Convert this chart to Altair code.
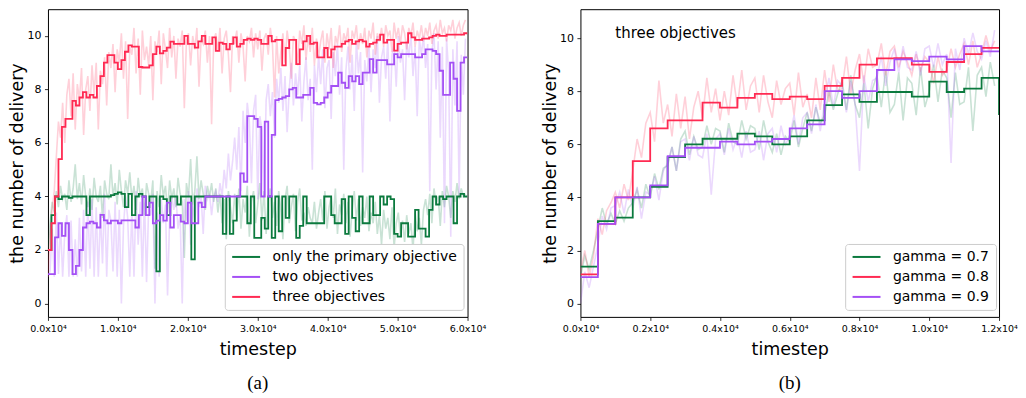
import altair as alt
import pandas as pd

FONT = "DejaVu Sans"

# ---------------- panel (a) ----------------
a_names = ["only the primary objective", "two objectives", "three objectives"]
a_dark = ["#0b7a3e", "#a450f5", "#ff2a52"]
A_STEP = 500
A_RAW = 300
A_END = 60000
a_xticks = [0, 10000, 20000, 30000, 40000, 50000, 60000]

a_step_green = [
    2.0, 3.3, 4.0, 3.9, 4.0, 4.0, 3.95, 4.0, 4.0, 4.0,
    4.0, 3.3, 4.0, 4.0, 4.0, 4.0, 4.0, 4.0, 4.05, 4.1,
    4.15, 4.1, 3.6, 4.1, 3.3, 4.0, 4.1, 4.0, 3.6, 4.0,
    4.0, 1.2, 4.0, 3.9, 3.3, 4.0, 4.0, 3.7, 4.0, 4.0,
    4.0, 1.65, 4.0, 4.0, 4.0, 4.0, 4.0, 4.0, 4.0, 4.0,
    2.6, 4.0, 2.6, 3.1, 4.0, 4.0, 4.0, 3.0, 4.0, 2.45,
    2.45, 3.2, 2.8, 4.0, 2.45, 4.0, 2.7, 4.0, 3.2, 4.0,
    4.0, 2.45, 2.9, 4.0, 3.0, 3.0, 3.0, 3.0, 3.0, 4.0,
    4.0, 3.3, 3.0, 3.0, 3.9, 2.6, 4.0, 3.2, 2.7, 4.0,
    3.0, 3.0, 4.0, 3.3, 3.3, 4.0, 3.7, 4.0, 3.9, 2.6,
    2.5, 3.0, 3.0, 2.5, 2.5, 3.5, 2.8, 2.8, 2.5, 3.5,
    4.0, 3.7, 4.0, 3.9, 4.0, 4.0, 3.0, 4.0, 4.1, 4.0,
]
a_step_purple = [
    1.1, 1.1, 2.47, 3.0, 2.53, 3.0, 2.0, 1.1, 1.41, 2.0,
    2.84, 3.0, 3.06, 3.0, 2.84, 3.31, 3.11, 3.0, 3.1, 3.1,
    3.0, 3.11, 3.11, 3.11, 3.11, 2.84, 3.3, 4.0, 3.3, 3.77,
    3.0, 3.1, 3.3, 3.1, 3.77, 2.84, 3.3, 3.3, 3.06, 3.0,
    3.77, 3.0, 3.0, 3.77, 3.6, 4.0, 4.0, 4.0, 4.0, 4.0,
    4.0, 4.0, 4.0, 4.0, 4.0, 4.86, 4.55, 7.0, 7.0, 6.9,
    6.6, 4.0, 6.8, 4.0, 6.3, 7.6, 7.65, 7.7, 7.75, 8.0,
    8.06, 7.7, 7.7, 7.8, 7.8, 8.06, 7.5, 7.44, 7.5, 7.7,
    7.88, 8.13, 8.13, 8.63, 8.25, 8.06, 8.5, 8.3, 8.5, 8.2,
    8.63, 8.63, 9.13, 8.63, 9.1, 9.1, 9.1, 8.94, 8.94, 9.32,
    9.2, 9.32, 9.32, 9.32, 9.32, 9.2, 9.2, 9.32, 9.5, 9.5,
    9.44, 9.32, 8.7, 7.8, 7.8, 9.0, 8.4, 7.2, 9.0, 9.2,
]
a_step_red = [
    2.0, 3.0, 4.0, 5.4, 6.6, 6.9, 6.9, 7.57, 7.4, 7.7,
    7.9, 7.7, 7.8, 7.7, 8.13, 8.5, 9.0, 9.28, 9.28, 9.0,
    8.76, 9.1, 9.41, 9.65, 9.6, 9.6, 8.84, 8.82, 8.82, 8.9,
    9.32, 9.6, 9.35, 9.44, 9.56, 9.79, 9.7, 9.7, 9.7, 10.0,
    9.7, 9.7, 9.56, 9.8, 10.0, 9.7, 9.7, 9.95, 9.44, 9.75,
    9.7, 9.5, 9.7, 9.95, 9.6, 9.7, 9.85, 9.9, 9.85, 9.9,
    9.85, 9.7, 9.7, 10.0, 9.8, 9.85, 9.85, 8.9, 9.55, 9.85,
    9.85, 8.95, 9.5, 9.8, 10.0, 9.7, 9.75, 9.2, 9.2, 9.55,
    9.2, 9.5, 9.6, 9.6, 9.7, 9.8, 9.85, 9.7, 9.8, 9.85,
    9.8, 9.6, 9.7, 9.75, 9.85, 10.05, 9.75, 9.85, 9.85, 9.45,
    9.7, 9.75, 9.75, 10.1, 9.95, 9.85, 9.85, 9.9, 9.9, 9.95,
    10.0, 10.05, 10.0, 10.0, 10.05, 10.05, 10.05, 10.05, 10.05, 10.1,
]

a_raw_green = [
    2.0, 3.0, 3.8, 3.4, 4.2, 3.6, 4.4, 3.9, 4.1, 3.5,
    4.6, 3.8, 4.3, 5.2, 3.9, 4.5, 3.7, 4.8, 4.0, 3.6,
    4.3, 3.5, 4.7, 4.0, 3.8, 4.4, 3.2, 4.6, 4.1, 3.9,
    5.2, 4.0, 4.5, 3.7, 5.0, 4.2, 3.6, 4.6, 4.1, 4.9,
    3.9, 4.4, 3.5, 4.7, 4.0, 4.3, 3.3, 4.5, 4.1, 3.8,
    4.6, 1.3, 4.2, 3.6, 4.8, 4.0, 4.4, 3.4, 4.6, 3.9,
    4.3, 3.6, 4.7, 4.1, 3.8, 1.7, 4.5, 4.0, 5.4, 3.7,
    4.2, 5.5, 3.9, 4.6, 4.1, 3.5, 4.4, 4.0, 4.5, 3.8,
    4.3, 3.4, 4.1, 3.0, 3.9, 2.4, 4.2, 3.6, 3.0, 4.1,
    3.2, 4.3, 2.8, 3.9, 3.4, 4.4, 2.5, 3.8, 4.2, 3.0,
    3.7, 4.5, 3.1, 4.2, 2.6, 3.9, 4.3, 3.2, 3.8, 2.9,
    4.2, 3.5, 2.4, 3.9, 4.4, 3.0, 3.6, 4.1, 2.7, 3.8,
    4.3, 3.1, 3.4, 2.9, 3.6, 3.2, 3.0, 3.8, 2.8, 3.4,
    3.9, 3.1, 4.2, 2.8, 3.6, 4.0, 3.2, 4.3, 2.6, 3.7,
    3.3, 4.1, 3.0, 3.8, 2.5, 3.5, 4.2, 3.1, 3.9, 2.9,
    3.6, 3.2, 4.0, 2.7, 3.4, 3.0, 3.8, 2.6, 3.3, 2.2,
    3.5, 2.8, 3.2, 2.4, 3.6, 2.1, 3.0, 3.4, 2.5, 3.1,
    2.3, 3.3, 2.6, 3.0, 2.0, 3.4, 2.7, 3.2, 2.2, 3.5,
    3.9, 3.3, 4.1, 3.0, 4.3, 3.7, 4.0, 2.9, 4.2, 3.6,
    4.4, 4.0, 3.2, 4.2, 3.8, 4.5, 3.9, 4.3, 4.0, 4.1,
]
a_raw_purple = [
    1.0, 1.2, 2.8, 1.0, 3.4, 1.1, 3.0, 1.0, 2.6, 3.3,
    1.0, 3.1, 1.0, 2.4, 1.0, 3.2, 1.2, 3.5, 1.0, 3.8,
    1.3, 3.9, 1.0, 3.6, 1.0, 3.4, 1.5, 4.1, 1.0, 3.5,
    3.1, 1.2, 3.8, 1.0, 3.5, 0.0, 2.9, 4.0, 3.2, 1.0,
    3.5, 1.0, 4.2, 2.2, 3.8, 1.0, 4.0, 0.8, 3.6, 3.3,
    4.1, 0.0, 3.4, 1.0, 3.9, 3.0, 3.7, 0.3, 3.2, 4.0,
    3.5, 4.0, 2.8, 3.3, 0.0, 3.9, 3.1, 4.2, 2.2, 3.7,
    3.0, 4.3, 3.6, 4.0, 2.6, 4.4, 3.9, 4.1, 3.3, 4.0,
    4.2, 3.8, 4.5, 4.0, 5.0, 4.3, 5.6, 4.6, 5.3, 6.2,
    5.0, 6.6, 4.2, 7.2, 6.0, 7.5, 6.8, 4.5, 7.2, 7.8,
    3.9, 7.0, 6.5, 4.0, 7.6, 8.2, 7.0, 7.9, 6.2, 8.4,
    7.5, 8.8, 7.2, 8.5, 6.4, 8.0, 9.0, 7.4, 8.6, 7.8,
    8.9, 6.8, 8.3, 9.2, 7.6, 8.4, 5.0, 8.9, 7.9, 9.3,
    8.2, 9.5, 7.3, 8.8, 9.1, 6.9, 9.4, 8.5, 9.7, 7.8,
    9.2, 5.0, 8.7, 9.6, 8.0, 9.3, 7.2, 9.8, 8.6, 9.4,
    4.9, 9.1, 8.3, 9.7, 7.9, 9.5, 8.8, 10.0, 7.5, 9.2,
    9.6, 8.4, 9.9, 6.8, 9.3, 9.7, 8.1, 10.0, 9.0, 9.5,
    7.6, 9.8, 9.2, 10.1, 8.5, 9.6, 7.0, 9.9, 9.3, 10.0,
    8.8, 9.7, 4.2, 9.4, 10.1, 8.0, 9.8, 6.2, 9.6, 3.0,
    9.9, 8.6, 2.5, 9.5, 7.4, 9.8, 4.0, 9.3, 7.8, 9.9,
]
a_raw_red = [
    1.0, 2.5, 3.5, 4.2, 5.5, 6.8, 6.2, 7.5, 6.0, 7.8,
    8.4, 7.0, 8.6, 6.5, 8.2, 7.6, 8.8, 6.3, 8.0, 8.5,
    7.2, 8.9, 7.8, 9.0, 6.5, 8.7, 8.2, 9.2, 7.4, 9.4,
    8.8, 9.7, 7.9, 9.5, 9.0, 10.1, 8.4, 9.8, 6.9, 9.6,
    9.3, 10.3, 8.6, 9.9, 7.8, 10.2, 9.1, 9.6, 8.9, 10.0,
    7.6, 9.8, 9.4, 10.2, 8.2, 10.1, 9.5, 8.8, 10.3, 9.2,
    10.0, 8.4, 9.9, 9.6, 10.2, 7.3, 9.8, 10.1, 8.9, 10.0,
    9.5, 10.3, 8.1, 9.9, 9.7, 10.2, 9.0, 10.0, 6.7, 9.8,
    10.1, 9.4, 10.3, 8.6, 9.9, 10.2, 9.3, 7.9, 10.0, 9.7,
    10.2, 9.0, 10.1, 9.6, 8.3, 10.0, 9.8, 10.3, 9.2, 10.1,
    9.5, 10.2, 8.7, 9.9, 10.1, 9.3, 10.3, 9.7, 7.7, 10.0,
    8.6, 9.4, 10.1, 9.0, 10.2, 9.6, 8.4, 10.0, 9.8, 8.9,
    10.2, 9.7, 10.4, 9.1, 10.0, 9.4, 10.3, 8.9, 9.9, 9.2,
    9.8, 10.2, 9.0, 10.1, 9.5, 10.3, 8.8, 10.0, 9.7, 10.4,
    9.4, 10.1, 9.8, 10.3, 9.0, 10.2, 9.9, 10.4, 9.5, 10.1,
    9.7, 10.3, 9.2, 10.2, 9.9, 10.5, 9.3, 10.1, 9.8, 10.3,
    9.6, 10.4, 10.0, 10.2, 9.4, 10.5, 9.9, 10.3, 9.7, 10.4,
    10.1, 9.5, 10.3, 10.0, 10.5, 9.6, 10.2, 9.9, 10.4, 9.8,
    10.3, 10.0, 10.5, 9.7, 10.2, 10.4, 9.9, 10.6, 10.1, 10.3,
    9.8, 10.4, 10.2, 10.6, 9.9, 10.3, 10.5, 10.0, 10.4, 10.6,
]

# ---------------- panel (b) ----------------
b_names = ["gamma = 0.7", "gamma = 0.8", "gamma = 0.9"]
b_dark = ["#0b7a3e", "#ff2a52", "#a450f5"]
B_STEP = 500
B_RAW = 125
B_END = 12000
b_xticks = [0, 2000, 4000, 6000, 8000, 10000, 12000]

b_step_green = [1.39, 3.11, 3.24, 4.0, 4.4, 5.52, 6.0, 6.21, 6.21, 6.4, 6.3, 6.0,
                6.3, 6.9, 7.48, 7.88, 7.6, 7.97, 7.97, 7.8, 8.36, 7.97, 8.1, 8.5]
b_step_red = [1.1, 3.0, 4.0, 5.37, 6.6, 6.9, 6.9, 7.57, 7.38, 7.75, 7.9, 7.7,
              7.8, 7.7, 8.2, 8.5, 9.0, 9.24, 9.25, 9.0, 8.73, 9.1, 9.4, 9.63]
b_step_purple = [1.0, 3.0, 4.0, 4.0, 4.45, 5.55, 5.87, 5.87, 6.1, 6.0, 6.1, 6.2,
                 6.6, 6.75, 8.0, 7.75, 8.0, 8.8, 9.2, 9.13, 9.3, 9.2, 9.7, 9.5]
b_step_last = [7.1, 9.63, 9.5]

b_raw_green = [
    1.0, 1.8, 1.3, 2.0, 2.8, 3.6, 3.0, 3.4, 3.0, 3.5, 3.1, 3.6,
    3.8, 4.3, 3.6, 4.5, 4.0, 4.9, 4.3, 5.1, 5.2, 5.9, 5.0, 6.2,
    6.5, 5.6, 6.3, 5.8, 5.9, 6.7, 6.0, 6.6, 6.5, 5.7, 6.8, 6.1,
    6.0, 6.9, 6.2, 6.7, 6.6, 5.8, 6.9, 6.1, 5.7, 6.4, 5.6, 6.3,
    6.1, 6.9, 5.9, 6.6, 7.2, 6.5, 7.4, 6.8, 7.1, 8.0, 7.3, 7.9,
    8.4, 7.3, 8.6, 7.5, 7.0, 8.3, 6.6, 8.1, 8.6, 7.4, 8.8, 7.2,
    7.5, 8.7, 6.9, 8.5, 8.3, 7.1, 8.9, 7.4, 8.0, 9.0, 7.6, 8.8,
    8.5, 7.0, 8.7, 7.5, 7.6, 8.9, 6.5, 8.6, 8.9, 7.8, 9.1, 8.2,
]
b_raw_red = [
    1.2, 2.0, 1.0, 1.8, 3.2, 2.6, 3.5, 3.8, 4.2, 3.6, 4.5, 3.9,
    5.0, 6.2, 5.5, 6.8, 7.2, 6.1, 8.4, 6.8, 7.5, 6.3, 7.9, 6.6,
    7.8, 6.2, 7.4, 8.0, 7.0, 8.5, 7.2, 8.1, 6.9, 8.0, 7.1, 8.6,
    7.4, 8.8, 7.3, 8.2, 8.5, 7.2, 8.6, 7.6, 7.0, 8.4, 7.5, 8.1,
    8.3, 7.1, 8.7, 7.4, 7.9, 7.0, 8.5, 7.3, 8.8, 7.6, 9.0, 8.0,
    8.1, 9.3, 7.9, 8.8, 9.4, 8.3, 9.6, 8.9, 9.0, 9.8, 8.6, 9.5,
    9.7, 8.9, 9.5, 9.1, 8.6, 9.4, 8.8, 9.3, 9.1, 8.3, 9.3, 8.6,
    8.8, 9.6, 8.9, 9.4, 9.8, 9.0, 9.9, 8.9, 9.4, 10.1, 9.5, 9.9,
]
b_raw_purple = [
    0.0, 1.2, 0.6, 1.4, 2.2, 3.3, 2.8, 3.6, 3.7, 4.2, 3.4, 4.3,
    3.6, 4.4, 3.2, 4.2, 4.1, 4.8, 3.9, 5.0, 5.3, 5.9, 5.0, 6.1,
    6.2, 5.4, 6.3, 5.6, 5.5, 6.4, 4.1, 6.2, 6.4, 5.6, 6.6, 5.8,
    6.3, 5.5, 6.5, 5.7, 5.8, 6.5, 5.4, 6.4, 6.6, 5.7, 6.7, 6.0,
    6.3, 7.1, 6.0, 7.0, 7.2, 6.4, 7.5, 6.5, 7.6, 8.5, 7.4, 8.4,
    8.2, 7.2, 8.4, 7.5, 5.0, 8.6, 7.6, 8.4, 8.5, 9.3, 8.2, 9.1,
    9.6, 8.7, 9.7, 8.9, 8.8, 9.5, 8.6, 9.6, 9.7, 8.9, 9.8, 9.0,
    9.4, 5.3, 9.6, 8.8, 10.0, 9.4, 10.2, 9.5, 9.2, 9.9, 9.3, 10.3,
]

note_text = ["three objectives"]
note_t = [1000]
note_v = [10.2]


def step_frame(names, series, step, end, last):
    rows = []
    for name, vals, tail in zip(names, series, last):
        for i, v in enumerate(vals):
            rows.append({"t": i * step, "v": v, "s": name})
        rows.append({"t": end, "v": tail, "s": name})
    return pd.DataFrame(rows)


def raw_frame(vals, step):
    return pd.DataFrame({"t": [i * step for i in range(len(vals))], "v": vals})


def panel(names, dark, step_df, raws, raw_step, xmax, xticks, ydom, legend_x, label, width, extra=None):
    xs = alt.Scale(domain=[0, xmax], nice=False, zero=False)
    ys = alt.Scale(domain=ydom, nice=False, zero=False)
    xax = alt.Axis(values=xticks,
                   labelExpr="format(datum.value / 10000, '.1f') + 'x10⁴'",
                   labelFlush=False, labelOverlap=False,
                   title="timestep")
    yax = alt.Axis(values=[0, 2, 4, 6, 8, 10], title="the number of delivery")
    X = alt.X("t:Q", scale=xs, axis=xax)
    Y = alt.Y("v:Q", scale=ys, axis=yax)
    layers = []
    for vals, col in raws:
        layers.append(
            alt.Chart(raw_frame(vals, raw_step))
            .mark_line(color=col, opacity=0.22, strokeWidth=1.6, clip=True)
            .encode(x=X, y=Y)
        )
    layers.append(
        alt.Chart(step_df)
        .mark_line(interpolate="step-after", strokeWidth=1.8, clip=True)
        .encode(
            x=X, y=Y,
            color=alt.Color(
                "s:N",
                scale=alt.Scale(domain=names, range=dark),
                sort=names,
                legend=alt.Legend(
                    title=None, orient="none", legendX=legend_x, legendY=235,
                    symbolType="M-1,0H4", symbolSize=125, symbolStrokeWidth=2,
                    labelOffset=27.8, rowPadding=6, padding=6,
                    labelFont=FONT, labelFontSize=14, labelColor="black",
                    labelLimit=400, strokeColor="#cccccc", fillColor="white",
                    cornerRadius=3,
                ),
            ),
        )
    )
    if extra is not None:
        layers.append(extra)
    return alt.layer(*layers).properties(
        width=width,
        height=308,
        title=alt.TitleParams(label, orient="bottom", font="Liberation Serif",
                              fontSize=19, fontWeight="normal", color="black",
                              offset=16),
    )


a_steps = step_frame(a_names, [a_step_green, a_step_purple, a_step_red], A_STEP, A_END,
                     [a_step_green[-1], a_step_purple[-1], a_step_red[-1]])
b_steps = step_frame(b_names, [b_step_green, b_step_red, b_step_purple], B_STEP, B_END,
                     b_step_last)

pa = panel(a_names, a_dark, a_steps,
           [(a_raw_green, "#0b7a3e"), (a_raw_purple, "#a450f5"), (a_raw_red, "#ff2a52")],
           A_RAW, A_END, a_xticks, [-0.5, 11.0], 177, "(a)", 420)

note = (
    alt.Chart(pd.DataFrame({"t": note_t, "v": note_v, "txt": note_text}))
    .mark_text(align="left", baseline="middle", font=FONT, fontSize=15, color="black")
    .encode(x="t:Q", y="v:Q", text="txt:N")
)

pb = panel(b_names, b_dark, b_steps,
           [(b_raw_green, "#0b7a3e"), (b_raw_red, "#ff2a52"), (b_raw_purple, "#a450f5")],
           B_RAW, B_END, b_xticks, [-0.5, 11.09], 265, "(b)", 419, extra=note)

chart = (
    alt.hconcat(pa, pb, spacing=113, bounds="flush")
    .resolve_scale(color="independent", x="independent", y="independent")
    .resolve_legend(color="independent")
    .properties(padding={"left": 0, "top": 0, "right": 0, "bottom": 0}, background="white")
    .configure_view(stroke="black", strokeWidth=1)
    .configure_axis(
        grid=False, domain=False,
        labelFont=FONT, labelColor="black", labelFontSize=11,
        tickColor="black", tickSize=3.5, tickWidth=0.8, labelPadding=3.5,
        titleFont=FONT, titleFontSize=17.5, titleFontWeight="normal", titleColor="black",
    )
    .configure_axisLeft(titlePadding=0)
    .configure_axisBottom(labelFontSize=9.5, titlePadding=7.5)
)

chart.save("out.html", embed_options={"renderer": "svg", "actions": False})
